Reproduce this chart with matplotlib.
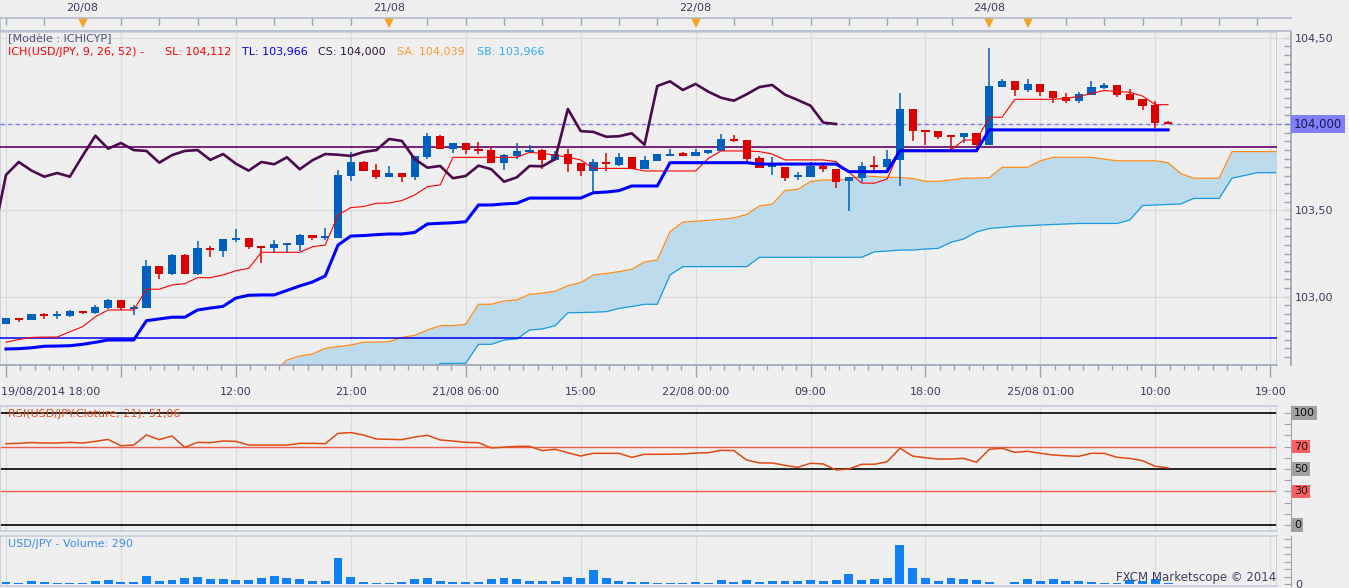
import numpy as np
import matplotlib
matplotlib.use("Agg")
import matplotlib.pyplot as plt
from matplotlib.transforms import blended_transform_factory as blend

# USD/JPY hourly candles, bar 0 = 19/08/2014 18:00
opens = [102.842, 102.875, 102.865, 102.901, 102.892, 102.888, 102.915, 102.907, 102.936, 102.979,
         102.929, 102.936, 103.178, 103.131, 103.241, 103.131, 103.282, 103.266, 103.332, 103.340,
         103.293, 103.282, 103.301, 103.301, 103.355, 103.342, 103.342, 103.699, 103.780, 103.734,
         103.695, 103.716, 103.695, 103.811, 103.932, 103.857, 103.890, 103.855, 103.849, 103.776,
         103.815, 103.836, 103.849, 103.792, 103.826, 103.774, 103.730, 103.780, 103.763, 103.807,
         103.739, 103.787, 103.820, 103.830, 103.815, 103.830, 103.844, 103.913, 103.907, 103.803,
         103.755, 103.753, 103.697, 103.695, 103.759, 103.739, 103.672, 103.689, 103.757, 103.749,
         103.792, 104.087, 103.965, 103.959, 103.932, 103.925, 103.946, 103.880, 104.216, 104.247,
         104.197, 104.232, 104.191, 104.156, 104.135, 104.168, 104.210, 104.226, 104.174, 104.143,
         104.110, 104.013]
highs = [102.877, 102.877, 102.898, 102.907, 102.917, 102.923, 102.915, 102.952, 102.987, 102.979,
         102.952, 103.212, 103.178, 103.249, 103.245, 103.324, 103.293, 103.334, 103.394, 103.340,
         103.293, 103.328, 103.309, 103.363, 103.355, 103.399, 103.734, 103.836, 103.786, 103.767,
         103.757, 103.716, 103.816, 103.948, 103.938, 103.890, 103.890, 103.894, 103.861, 103.826,
         103.892, 103.878, 103.855, 103.845, 103.853, 103.774, 103.799, 103.830, 103.830, 103.807,
         103.815, 103.826, 103.855, 103.840, 103.857, 103.849, 103.942, 103.936, 103.907, 103.815,
         103.811, 103.753, 103.724, 103.778, 103.772, 103.739, 103.691, 103.782, 103.815, 103.849,
         104.180, 104.087, 103.965, 103.959, 103.932, 103.946, 103.946, 104.440, 104.261, 104.247,
         104.261, 104.232, 104.191, 104.178, 104.187, 104.247, 104.239, 104.226, 104.204, 104.143,
         104.133, 104.019]
lows = [102.842, 102.855, 102.865, 102.872, 102.871, 102.884, 102.900, 102.900, 102.930, 102.921,
        102.896, 102.936, 103.102, 103.126, 103.131, 103.126, 103.231, 103.231, 103.317, 103.276,
        103.197, 103.251, 103.259, 103.266, 103.328, 103.328, 103.342, 103.672, 103.730, 103.681,
        103.695, 103.666, 103.676, 103.799, 103.857, 103.834, 103.828, 103.828, 103.776, 103.734,
        103.799, 103.830, 103.739, 103.787, 103.724, 103.699, 103.599, 103.730, 103.759, 103.738,
        103.739, 103.787, 103.815, 103.815, 103.815, 103.826, 103.844, 103.898, 103.778, 103.747,
        103.705, 103.672, 103.676, 103.695, 103.724, 103.631, 103.498, 103.666, 103.714, 103.734,
        103.641, 103.903, 103.878, 103.915, 103.849, 103.892, 103.853, 103.880, 104.216, 104.164,
        104.185, 104.162, 104.123, 104.123, 104.123, 104.168, 104.201, 104.158, 104.139, 104.081,
        103.975, 104.000]
closes = [102.877, 102.865, 102.898, 102.890, 102.894, 102.919, 102.905, 102.940, 102.979, 102.933,
          102.940, 103.178, 103.133, 103.243, 103.131, 103.282, 103.269, 103.334, 103.340, 103.289,
          103.282, 103.305, 103.307, 103.357, 103.340, 103.344, 103.705, 103.780, 103.730, 103.695,
          103.716, 103.695, 103.816, 103.932, 103.857, 103.890, 103.849, 103.844, 103.776, 103.820,
          103.844, 103.849, 103.792, 103.826, 103.770, 103.730, 103.780, 103.767, 103.807, 103.738,
          103.790, 103.826, 103.822, 103.815, 103.838, 103.849, 103.913, 103.902, 103.797, 103.747,
          103.757, 103.686, 103.699, 103.759, 103.738, 103.666, 103.691, 103.757, 103.755, 103.797,
          104.087, 103.959, 103.954, 103.926, 103.929, 103.946, 103.880, 104.220, 104.247, 104.197,
          104.232, 104.187, 104.152, 104.135, 104.172, 104.214, 104.226, 104.170, 104.139, 104.106,
          104.008, 104.000]

# ichimoku lines (tenkan = SL, kijun = TL)
tenkan = [102.737, 102.752, 102.764, 102.766, 102.766, 102.797, 102.826, 102.884, 102.923, 102.923,
          102.923, 103.043, 103.043, 103.068, 103.075, 103.110, 103.110, 103.126, 103.150, 103.164,
          103.257, 103.257, 103.257, 103.257, 103.289, 103.299, 103.473, 103.516, 103.522, 103.541,
          103.542, 103.557, 103.589, 103.637, 103.647, 103.807, 103.807, 103.807, 103.807, 103.807,
          103.807, 103.836, 103.830, 103.820, 103.807, 103.792, 103.743, 103.743, 103.743, 103.743,
          103.728, 103.728, 103.728, 103.728, 103.728, 103.801, 103.844, 103.844, 103.844, 103.840,
          103.826, 103.792, 103.792, 103.792, 103.792, 103.782, 103.722, 103.658, 103.657, 103.681,
          103.849, 103.849, 103.849, 103.849, 103.849, 103.907, 103.907, 104.039, 104.039, 104.143,
          104.143, 104.143, 104.143, 104.149, 104.159, 104.177, 104.194, 104.188, 104.184, 104.162,
          104.112, 104.112]
kijun = [102.697, 102.699, 102.704, 102.713, 102.714, 102.716, 102.724, 102.736, 102.749, 102.749,
         102.749, 102.861, 102.871, 102.881, 102.881, 102.923, 102.934, 102.944, 102.992, 103.008,
         103.010, 103.010, 103.036, 103.062, 103.085, 103.120, 103.299, 103.351, 103.354, 103.359,
         103.363, 103.363, 103.372, 103.421, 103.425, 103.428, 103.434, 103.531, 103.531, 103.537,
         103.541, 103.571, 103.571, 103.571, 103.571, 103.571, 103.602, 103.606, 103.614, 103.641,
         103.641, 103.641, 103.776, 103.776, 103.776, 103.776, 103.776, 103.776, 103.776, 103.768,
         103.768, 103.768, 103.768, 103.768, 103.768, 103.768, 103.724, 103.724, 103.724, 103.724,
         103.845, 103.845, 103.845, 103.845, 103.845, 103.845, 103.845, 103.966, 103.966, 103.966,
         103.966, 103.966, 103.966, 103.966, 103.966, 103.966, 103.966, 103.966, 103.966, 103.966,
         103.966, 103.966]

# cloud, bars 21..100 (already shifted forward on the chart)
senkou_a = [102.564, 102.633, 102.656, 102.668, 102.701, 102.711, 102.720, 102.736, 102.737, 102.739,
            102.764, 102.776, 102.807, 102.832, 102.832, 102.840, 102.956, 102.956, 102.975, 102.981,
            103.013, 103.021, 103.031, 103.064, 103.081, 103.126, 103.134, 103.145, 103.159, 103.201,
            103.212, 103.376, 103.431, 103.437, 103.442, 103.448, 103.456, 103.476, 103.525, 103.535,
            103.615, 103.622, 103.666, 103.676, 103.676, 103.680, 103.699, 103.696, 103.691, 103.691,
            103.684, 103.668, 103.668, 103.676, 103.686, 103.687, 103.689, 103.749, 103.749, 103.749,
            103.787, 103.807, 103.807, 103.807, 103.807, 103.797, 103.787, 103.787, 103.787, 103.787,
            103.776, 103.713, 103.686, 103.686, 103.686, 103.840, 103.840, 103.840, 103.840, 103.840]
senkou_b = [102.550, 102.550, 102.550, 102.550, 102.550, 102.550, 102.550, 102.550, 102.550, 102.550,
            102.550, 102.550, 102.550, 102.613, 102.614, 102.614, 102.724, 102.724, 102.749, 102.755,
            102.807, 102.813, 102.832, 102.907, 102.908, 102.910, 102.913, 102.932, 102.943, 102.956,
            102.956, 103.126, 103.174, 103.174, 103.174, 103.174, 103.174, 103.174, 103.228, 103.228,
            103.228, 103.228, 103.228, 103.228, 103.228, 103.228, 103.228, 103.260, 103.264, 103.270,
            103.270, 103.276, 103.280, 103.315, 103.334, 103.375, 103.395, 103.401, 103.408, 103.411,
            103.415, 103.418, 103.421, 103.424, 103.424, 103.424, 103.424, 103.444, 103.528, 103.531,
            103.534, 103.537, 103.569, 103.569, 103.569, 103.686, 103.702, 103.718, 103.718, 103.718]

rsi = [72.6, 72.9, 73.6, 73.2, 73.2, 73.8, 73.2, 74.7, 76.4, 70.8,
       71.4, 80.4, 76.2, 79.5, 69.3, 73.8, 73.5, 75.0, 74.7, 71.4,
       71.4, 71.4, 71.4, 72.9, 72.9, 72.6, 81.8, 82.5, 80.3, 76.8,
       76.5, 76.2, 78.5, 80.1, 75.9, 75.0, 73.8, 73.5, 68.8, 69.5,
       70.2, 70.2, 66.4, 67.6, 64.5, 61.6, 64.0, 64.0, 64.0, 60.4,
       63.1, 63.1, 63.2, 63.4, 64.2, 64.6, 66.7, 66.4, 58.0, 55.4,
       55.4, 53.3, 51.5, 55.1, 54.5, 49.1, 50.0, 54.2, 54.2, 56.5,
       68.5, 61.5, 60.1, 58.9, 58.9, 59.5, 56.0, 67.6, 68.5, 64.9,
       65.8, 64.0, 62.5, 61.8, 61.3, 64.0, 64.0, 60.4, 59.5, 57.4,
       52.4, 51.06]

volume = [530, 270, 800, 530, 270, 270, 270, 800, 1070, 530,
          530, 2140, 800, 1070, 1600, 1870, 1340, 1340, 1070, 1070,
          1600, 2140, 1600, 1340, 800, 800, 6940, 1870, 530, 270,
          270, 530, 1340, 1600, 800, 530, 530, 530, 1340, 1600,
          1340, 800, 800, 800, 1870, 1600, 3740, 1600, 800, 530,
          530, 270, 270, 270, 530, 270, 1070, 530, 1070, 530,
          800, 800, 800, 1070, 800, 1070, 2670, 1070, 1340, 1600,
          10410, 4270, 1600, 800, 1600, 1340, 1070, 530, 130, 530,
          1340, 800, 1340, 800, 800, 530, 270, 270, 1070, 800,
          1340, 290]

time_labels = ['19/08/2014 18:00', '', '12:00', '21:00', '21/08 06:00', '15:00',
               '22/08 00:00', '09:00', '18:00', '25/08 01:00', '10:00', '19:00']
day_labels = ['20/08', '21/08', '22/08', '24/08']
day_bars = [6, 30, 54, 77]
marker_bars = [6, 30, 54, 77, 80]

# ---- layout (pixel based, like the original screenshot) ----
W, H = 1349, 588
BG = '#efefef'
FRAME = '#c6cedb'
AXIS = '#9aa3b5'
TXT = '#3c3c64'
GRID = '#dcdcdc'
PX = 12.77   # pixels per bar
X0 = 6       # pixel x of bar 0


def box(x0, y0, x1, y1):
    return [x0 / W, 1 - y1 / H, (x1 - x0) / W, (y1 - y0) / H]


def bar_xlim(px_right):
    return (-X0 / PX, (px_right - X0) / PX)


def price_at(y):
    return 104 - (y - 124) / 172.67


def frame(a, color=FRAME):
    for s in a.spines.values():
        s.set_color(color)
        s.set_linewidth(1.2)


plt.rcParams['font.family'] = ['DejaVu Sans']
fig = plt.figure(figsize=(W / 100, H / 100), dpi=100, facecolor=BG)

major = np.arange(0, 100, 9)
minor = np.array([m + k * 9 / 8 for m in major for k in range(1, 8)])
minor = minor[minor < 99.4]
x = np.arange(len(closes))

# ---- main price panel ----
ax = fig.add_axes(box(0, 32, 1277, 365))
ax.set_facecolor(BG)
ylo, yhi = price_at(365), price_at(32)
frame(ax)
ax.spines['bottom'].set_color(AXIS)
ax.vlines(major, ylo, yhi, color=GRID, lw=1, zorder=0)
ax.hlines([103.0, 103.5, 104.0, 104.5], -1, 101, color=GRID, lw=1, zorder=0)

sx = np.arange(21, 21 + len(senkou_a))
ax.fill_between(sx, senkou_a, senkou_b, color='#bcdcee', lw=0, zorder=1)
ax.plot(sx, senkou_a, color='#ff8c1a', lw=0.9, zorder=2)
ax.plot(sx, senkou_b, color='#1a9be0', lw=0.9, zorder=2)

ax.axhline(103.865, color='#660066', lw=1.2, zorder=3)
ax.axhline(102.758, color='#0000ee', lw=1.1, zorder=3)
ax.axhline(104.0, color='#7777ff', lw=1, ls=(0, (3, 2.5)), zorder=3)

o = np.array(opens)
c = np.array(closes)
cols = ['#0060c0' if cc >= oo else '#dd0000' for oo, cc in zip(o, c)]
ax.vlines(x, lows, highs, colors=cols, lw=1.1, zorder=4)
body = np.maximum(np.abs(c - o), 0.012)
ax.bar(x, body, 0.64, bottom=(o + c) / 2 - body / 2, color=cols, lw=0, zorder=4)

ax.plot(x, tenkan, color='#ff0000', lw=0.8, zorder=5)
ax.plot(x, kijun, color='#0000ff', lw=2.2, zorder=6)
ax.plot(np.arange(-1, len(closes) - 26), closes[25:], color='#4b0a4b', lw=1.9, zorder=6)

ax.set_yticks([])
ax.set_xticks(major)
ax.set_xticks(minor, minor=True)
ax.tick_params(axis='x', which='major', length=8.6, width=1, color=AXIS, labelbottom=False)
ax.tick_params(axis='x', which='minor', length=3.6, width=1, color=AXIS)
ax.set_xlim(*bar_xlim(1277))
ax.set_ylim(ylo, yhi)

tb = blend(ax.transData, fig.transFigure)
for m, lab in zip(major, time_labels):
    if m == 0:
        ax.text(-0.42, 1 - 392 / H, lab, transform=tb, ha='left', va='center', fontsize=8, color=TXT)
    else:
        ax.text(m, 1 - 392 / H, lab, transform=tb, ha='center', va='center', fontsize=8, color=TXT)

# price scale strip
axs = fig.add_axes(box(1277, 32, 1291, 365))
axs.set_facecolor(BG)
for k in ['left', 'top', 'bottom']:
    axs.spines[k].set_visible(False)
axs.spines['right'].set_color(AXIS)
axs.spines['right'].set_linewidth(1.2)
axs.set_xticks([])
axs.yaxis.tick_right()
axs.set_yticks([103.0, 103.5, 104.5])
axs.set_yticklabels(['103,00', '103,50', '104,50'])
axs.set_yticks(np.arange(102.65, 104.53, 0.05), minor=True)
axs.tick_params(axis='y', which='both', direction='in', length=5, width=1, color=AXIS,
                labelcolor=TXT, labelsize=8, pad=3)
axs.hlines([103.0, 103.5, 104.5], 0, 1, color=GRID, lw=1)
axs.axhline(104.0, color='#7777ff', lw=1, ls=(0, (3, 2.5)))
axs.set_xlim(0, 1)
axs.set_ylim(ylo, yhi)
axs.text(1.2, 104.0, '104,000', transform=blend(axs.transAxes, axs.transData), ha='left', va='center',
         fontsize=8.5, color='#1c1c48', bbox=dict(fc='#8080ff', ec='none', pad=1.8))

# date strip on top
axt = fig.add_axes(box(0, 18, 1291, 31))
axt.set_facecolor(BG)
axt.set_xticks([])
axt.set_yticks([])
frame(axt, '#b4bccb')
axt.spines['right'].set_visible(False)
strip_ticks = list(range(0, 72, 3)) + [71.3, 74.1] + list(range(77, 101, 3))
axt.vlines(strip_ticks, 0.5, 1, color=AXIS, lw=1)
axt.plot(marker_bars, [0.62] * len(marker_bars), 'v', color='#f7a21b', ms=7, mew=0, clip_on=False)
axt.set_xlim(*bar_xlim(1291))
axt.set_ylim(0, 1)
tt = blend(axt.transData, fig.transFigure)
for d, lab in zip(day_bars, day_labels):
    axt.text(d, 1 - 8 / H, lab, transform=tt, ha='center', va='center', fontsize=8, color=TXT)

# ---- RSI panel ----
axr = fig.add_axes(box(0, 406, 1277, 531))
axr.set_facecolor(BG)
frame(axr)
axr.set_xticks([])
axr.set_yticks([])
axr.vlines(major, -10, 110, color=GRID, lw=1, zorder=0)
axr.hlines([100, 50, 0], -1, 101, color='#000000', lw=1.2, zorder=1)
axr.hlines([70, 30], -1, 101, color='#e8604c', lw=1.0, zorder=1)
axr.plot(x, rsi, color='#e04a10', lw=1.1, zorder=2)
axr.set_xlim(*bar_xlim(1277))
axr.set_ylim(-6 / 1.12, 119 / 1.12)

axrs = fig.add_axes(box(1277, 406, 1291, 531))
axrs.set_facecolor(BG)
for k in ['left', 'top', 'bottom']:
    axrs.spines[k].set_visible(False)
axrs.spines['right'].set_color(AXIS)
axrs.set_xticks([])
axrs.yaxis.tick_right()
axrs.set_yticks(np.arange(0, 101, 10))
axrs.tick_params(axis='y', direction='in', length=5, color=AXIS, labelright=False)
axrs.set_xlim(0, 1)
axrs.set_ylim(-6 / 1.12, 119 / 1.12)
rt = blend(axrs.transAxes, axrs.transData)
for lev, fc in [(100, '#a0a0a0'), (70, '#ff5f5f'), (50, '#a0a0a0'), (30, '#ff5f5f'), (0, '#a0a0a0')]:
    axrs.text(1.22, lev, str(lev), transform=rt, ha='left', va='center', fontsize=8,
              color='#101010', bbox=dict(fc=fc, ec='none', pad=1.2))

# ---- volume panel ----
axv = fig.add_axes(box(0, 536, 1277, 586))
axv.set_facecolor(BG)
frame(axv)
axv.set_xticks([])
axv.set_yticks([])
axv.vlines(major, -1000, 14000, color=GRID, lw=1, zorder=0)
axv.bar(x, volume, 0.7, color='#1080f8', lw=0, zorder=2)
axv.set_xlim(*bar_xlim(1277))
axv.set_ylim(-534, 12816)

axvs = fig.add_axes(box(1277, 536, 1291, 586))
axvs.set_facecolor(BG)
for k in ['left', 'top', 'bottom']:
    axvs.spines[k].set_visible(False)
axvs.spines['right'].set_color(AXIS)
axvs.set_xticks([])
axvs.yaxis.tick_right()
axvs.set_yticks(np.arange(0, 12001, 2000))
axvs.set_yticklabels(['0'] + [''] * 6)
axvs.tick_params(axis='y', direction='in', length=5, color=AXIS, labelcolor=TXT, labelsize=8, pad=3)
axvs.set_xlim(0, 1)
axvs.set_ylim(-534, 12816)

# ---- texts ----
fig.text(8 / W, 1 - 39 / H, '[Modèle : ICHICYP]', fontsize=8, color='#50507a', va='center')
header = [(8, 'ICH(USD/JPY, 9, 26, 52) -', '#ff0000'), (165, 'SL: 104,112', '#ff0000'),
          (242, 'TL: 103,966', '#0000ff'), (318, 'CS: 104,000', '#2a1a3a'),
          (397, 'SA: 104,039', '#ff9a33'), (477, 'SB: 103,966', '#33aaff')]
for px, s, col in header:
    fig.text(px / W, 1 - 52 / H, s, fontsize=8, color=col, va='center')
fig.text(8 / W, 1 - 414 / H, 'RSI(USD/JPY.Cloture, 21): 51,06', fontsize=8, color='#e05020', va='center')
fig.text(8 / W, 1 - 544 / H, 'USD/JPY - Volume: 290', fontsize=8, color='#3a8ff0', va='center')
fig.text(1276 / W, 1 - 578 / H, 'FXCM Marketscope © 2014', fontsize=8.5, color='#404060',
         ha='right', va='center')

fig.savefig('out.png', dpi=100, facecolor=BG)
